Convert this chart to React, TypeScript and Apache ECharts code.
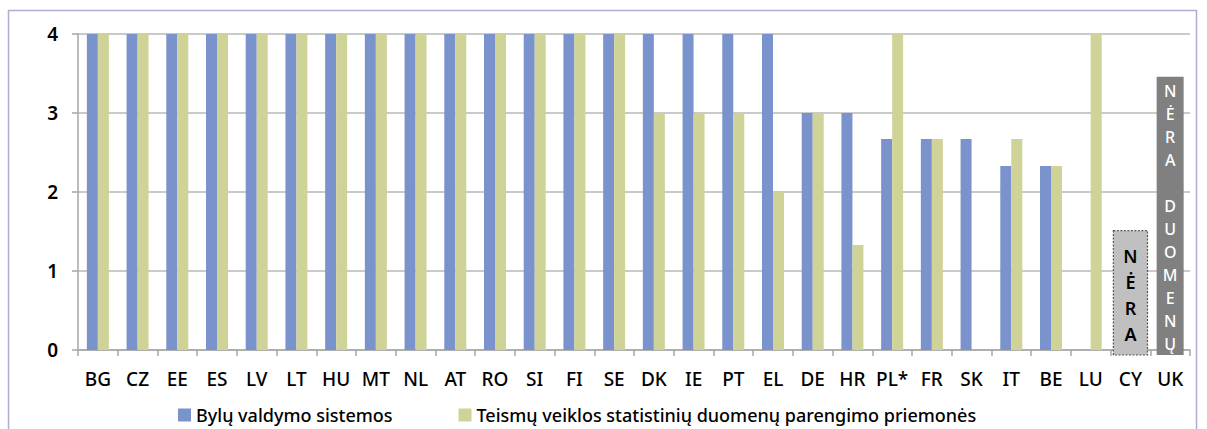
import React, { useEffect, useRef } from "react";
import * as echarts from "echarts";

const categories = ["BG", "CZ", "EE", "ES", "LV", "LT", "HU", "MT", "NL", "AT", "RO", "SI", "FI", "SE", "DK", "IE", "PT", "EL", "DE", "HR", "PL*", "FR", "SK", "IT", "BE", "LU", "CY", "UK"];
const caseManagement = [4, 4, 4, 4, 4, 4, 4, 4, 4, 4, 4, 4, 4, 4, 4, 4, 4, 4, 3, 3, 2.67, 2.67, 2.67, 2.33, 2.33, null, null, null];
const statistics = [4, 4, 4, 4, 4, 4, 4, 4, 4, 4, 4, 4, 4, 4, 3, 3, 3, 2, 3, 1.33, 4, 2.67, null, 2.67, 2.33, 4, null, null];
const seriesNames = ["Bylų valdymo sistemos", "Teismų veiklos statistinių duomenų parengimo priemonės"];
const noDataCats = ["CY", "UK"];
const noDataHeights = [1.51, 3.46];
const noDataTexts = ["N\nĖ\nR\nA", "N\nĖ\nR\nA\n\nD\nU\nO\nM\nE\nN\nŲ"];

const FONT = "Noto Sans";

export default function App() {
  const ref = useRef<HTMLDivElement>(null);
  useEffect(() => {
    document.body.style.margin = "0";
    const chart = echarts.init(ref.current!, null, { renderer: "svg" });
    const noData = noDataCats.map((c, i) => [categories.indexOf(c), noDataHeights[i], i]);
    chart.setOption({
      animation: false,
      textStyle: { fontFamily: FONT },
      graphic: [
        {
          type: "rect",
          shape: { x: 8.5, y: 10.5, width: 1188, height: 440 },
          style: { fill: "none", stroke: "#b8a9d2", lineWidth: 1.5 },
          silent: true,
        },
      ],
      grid: { left: 78, right: 17, top: 34, bottom: 79 },
      legend: {
        left: 173,
        top: 401,
        itemWidth: 13,
        itemHeight: 13,
        itemGap: 66,
        icon: "rect",
        data: seriesNames,
        textStyle: { fontSize: 18, color: "#000", fontFamily: FONT, fontWeight: 500 },
      },
      xAxis: {
        type: "category",
        data: categories,
        axisLine: { show: true, lineStyle: { color: "#a6a6a6", width: 1.5 } },
        axisTick: { show: true, interval: 0, length: 6, lineStyle: { color: "#a6a6a6", width: 1.5 } },
        axisLabel: { interval: 0, margin: 19, fontSize: 19, color: "#000", fontFamily: FONT, fontWeight: 500 },
      },
      yAxis: {
        type: "value",
        min: 0,
        max: 4,
        interval: 1,
        axisLine: { show: true, lineStyle: { color: "#a6a6a6", width: 1.5 } },
        axisTick: { show: true, length: 6, lineStyle: { color: "#a6a6a6", width: 1.5 } },
        splitLine: { show: true, lineStyle: { color: "#b8b8b8", width: 1.5 } },
        axisLabel: { margin: 20, fontSize: 19, color: "#000", fontFamily: FONT, fontWeight: 600 },
      },
      series: [
        {
          name: seriesNames[0],
          type: "bar",
          data: caseManagement,
          barWidth: 11,
          barGap: "0%",
          itemStyle: { color: "#7a93cc" },
        },
        {
          name: seriesNames[1],
          type: "bar",
          data: statistics,
          barWidth: 11,
          barGap: "0%",
          itemStyle: { color: "#cfd398" },
        },
        {
          type: "custom",
          data: noData,
          z: 5,
          renderItem: (params: any, api: any) => {
            const idx = api.value(0);
            const h = api.value(1);
            const k = api.value(2);
            const top = api.coord([idx, h]);
            const base = api.coord([idx, 0]);
            const bw = (api.size([1, 0])[0] as number);
            const isUK = k === 1;
            const w = isUK ? bw * 0.68 : bw * 0.86;
            const x = top[0] - w / 2;
            const y = top[1];
            const hh = base[1] + 5 - y;
            return {
              type: "group",
              children: [
                {
                  type: "rect",
                  shape: { x, y, width: w, height: hh },
                  style: isUK
                    ? { fill: "#808080", stroke: null }
                    : { fill: "#c0c0c0", stroke: "#555", lineWidth: 1.2, lineDash: [2, 1.5] },
                },
                {
                  type: "text",
                  x: top[0],
                  y: y + (isUK ? 3 : 12),
                  style: {
                    text: noDataTexts[k],
                    fill: isUK ? "#fff" : "#000",
                    fontSize: isUK ? 16 : 18,
                    fontWeight: isUK ? 500 : 600,
                    fontFamily: FONT,
                    lineHeight: isUK ? 23 : 26,
                    align: "center",
                    verticalAlign: "top",
                  },
                },
              ],
            };
          },
        },
      ],
    });
    return () => chart.dispose();
  }, []);
  return <div ref={ref} style={{ width: 1207, height: 429 }} />;
}
